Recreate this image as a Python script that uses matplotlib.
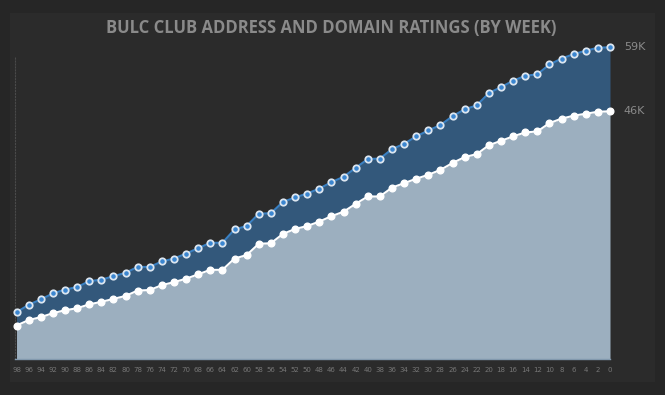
import matplotlib
matplotlib.use("Agg")
import matplotlib.pyplot as plt
from matplotlib.patches import Rectangle

# weeks shown on the x axis (counting down to 0)
weeks = list(range(98, -1, -2))

# club address ratings (thousands), upper series
address = [5.2, 6.7, 7.8, 9.0, 9.8, 10.3, 11.5, 11.8, 12.5, 13.2,
           14.4, 14.4, 15.5, 16.1, 17.1, 18.2, 19.3, 19.3, 22.0, 22.7,
           25.2, 25.3, 27.6, 28.5, 29.3, 30.3, 31.6, 32.7, 34.5, 36.3,
           36.4, 38.3, 39.4, 40.9, 42.1, 43.2, 45.0, 46.4, 47.2, 49.7,
           50.9, 52.2, 53.2, 53.5, 55.5, 56.7, 57.6, 58.3, 58.9, 59.0]

# domain ratings (thousands), lower series
domain = [2.5, 3.6, 4.2, 5.0, 5.6, 6.0, 6.8, 7.3, 7.9, 8.5,
          9.6, 9.7, 10.7, 11.3, 12.0, 12.9, 13.8, 13.8, 16.1, 16.8,
          19.1, 19.2, 21.1, 22.1, 22.7, 23.6, 24.7, 25.6, 27.2, 28.7,
          28.7, 30.5, 31.4, 32.3, 33.1, 34.1, 35.5, 36.7, 37.3, 39.1,
          40.0, 40.9, 41.7, 41.9, 43.6, 44.5, 45.1, 45.5, 45.9, 46.0]

end_labels = ["59K", "46K"]

W, H = 665, 395
fig = plt.figure(figsize=(W / 100, H / 100), dpi=100)
fig.patch.set_facecolor("#262626")
fig.patches.append(Rectangle((10 / W, 13 / H), 645 / W, 369 / H,
                             transform=fig.transFigure, facecolor="#2b2b2b",
                             edgecolor="none", zorder=0))

ax = fig.add_axes([15 / W, (H - 359) / H, 595 / W, 329 / H])
ax.set_facecolor("none")
ax.set_zorder(2)

ybot, ytop = -4.3, 62.5
ax.fill_between(weeks, ybot, domain, color="#9cafbf", lw=0, zorder=1)
ax.fill_between(weeks, domain, address, color="#33587b", lw=0, zorder=1)

ax.plot(weeks, address, color="#3a80c2", lw=1.5, marker="o", ms=4.6,
        mfc="#3b86d0", mec="#dce6f0", mew=1.3, zorder=3, clip_on=False)
ax.plot(weeks, domain, color="white", lw=1.5, marker="o", ms=4.8,
        mfc="white", mec="white", zorder=3, clip_on=False)

ax.annotate(end_labels[0], (weeks[-1], address[-1]), xytext=(10, 0),
            textcoords="offset points", color="#8a8a8a", fontsize=8,
            va="center", ha="left", annotation_clip=False)
ax.annotate(end_labels[1], (weeks[-1], domain[-1]), xytext=(10, 0),
            textcoords="offset points", color="#8a8a8a", fontsize=8,
            va="center", ha="left", annotation_clip=False)

ax.set_xlim(98.25, 0)
ax.set_ylim(ybot, ytop)
ax.set_xticks(weeks)
ax.set_xticklabels([str(w) for w in weeks], fontsize=5, color="#767676")
ax.tick_params(axis="x", length=0, pad=6)
ax.set_yticks([])
for side in ["top", "right"]:
    ax.spines[side].set_visible(False)
ax.spines["bottom"].set_color("#8299ae")
ax.spines["bottom"].set_linewidth(1)
ax.spines["left"].set_color("#4a4a4a")
ax.spines["left"].set_linestyle(":")
ax.spines["left"].set_bounds(ybot, 57)

fig.text(331 / W, 1 - 28 / H, "BULC CLUB ADDRESS AND DOMAIN RATINGS (BY WEEK)",
         ha="center", va="center", fontsize=12, fontweight="bold",
         family="Open Sans", color="#8a8a8a")

fig.savefig("out.png", dpi=100, facecolor=fig.get_facecolor())
